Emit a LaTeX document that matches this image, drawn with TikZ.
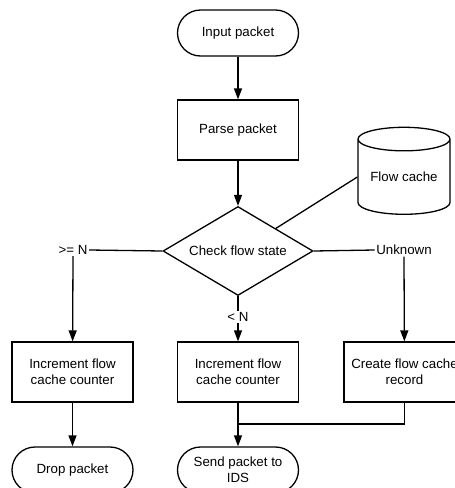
\documentclass[tikz,border=0pt]{standalone}
\usepackage{fontspec}
\setmainfont{Liberation Sans}
\usetikzlibrary{shapes.geometric,arrows.meta}

\begin{document}
\begin{tikzpicture}[x=1pt,y=-1pt,line width=1.3pt,
  font=\fontsize{13.3}{16}\selectfont,
  term/.style={draw,rectangle,rounded corners=23pt,minimum width=121pt,minimum height=46pt,align=center,inner sep=0pt},
  proc/.style={draw,rectangle,minimum width=121pt,minimum height=60pt,align=center,inner sep=0pt},
  decide/.style={draw,diamond,aspect=1.7,minimum width=150pt,minimum height=89pt,inner sep=0pt},
  store/.style={draw,cylinder,shape border rotate=90,aspect=0.35,minimum width=92pt,minimum height=87pt,inner sep=0pt},
  lbl/.style={inner sep=1pt},
  arr/.style={-{Triangle[length=11pt,width=8pt]}}]
\useasboundingbox (0,0) rectangle (455,488);

% main column
\node[term] (input) at (238,33) {Input packet};
\node[proc] (parse) at (238,130) {Parse packet};
\node[decide] (check) at (238,251) {Check flow state};
\node[store] (cache) at (404,177) {Flow cache};

% branch labels
\node[lbl] (geN) at (73,250) {>= N};
\node[lbl] (ltN) at (238,317) {< N};
\node[lbl] (unknown) at (404,250) {Unknown};

% actions
\node[proc] (incleft) at (72.5,372) {Increment flow\\cache counter};
\node[proc] (incmid) at (238,372) {Increment flow\\cache counter};
\node[proc] (create) at (404.5,372) {Create flow cache\\record};
\node[term] (drop) at (72.5,470) {Drop packet};
\node[term] (send) at (238,470) {Send packet to\\IDS};
\coordinate (join) at (238,424);

\draw[arr] (input) -- (parse);
\draw[arr] (parse) -- (check);
\draw (cache.west) -- (check.north east);

\draw (check.west) -- (geN.east);
\draw[arr] (geN.south) -- (incleft);
\draw (check.south) -- (ltN.north);
\draw[arr] (ltN.south) -- (incmid);
\draw (check.east) -- (unknown.west);
\draw[arr] (unknown.south) -- (create);

\draw[arr] (incleft) -- (drop);
\draw[arr] (incmid) -- (send);
\draw (create.south) |- (join);
\end{tikzpicture}
\end{document}
